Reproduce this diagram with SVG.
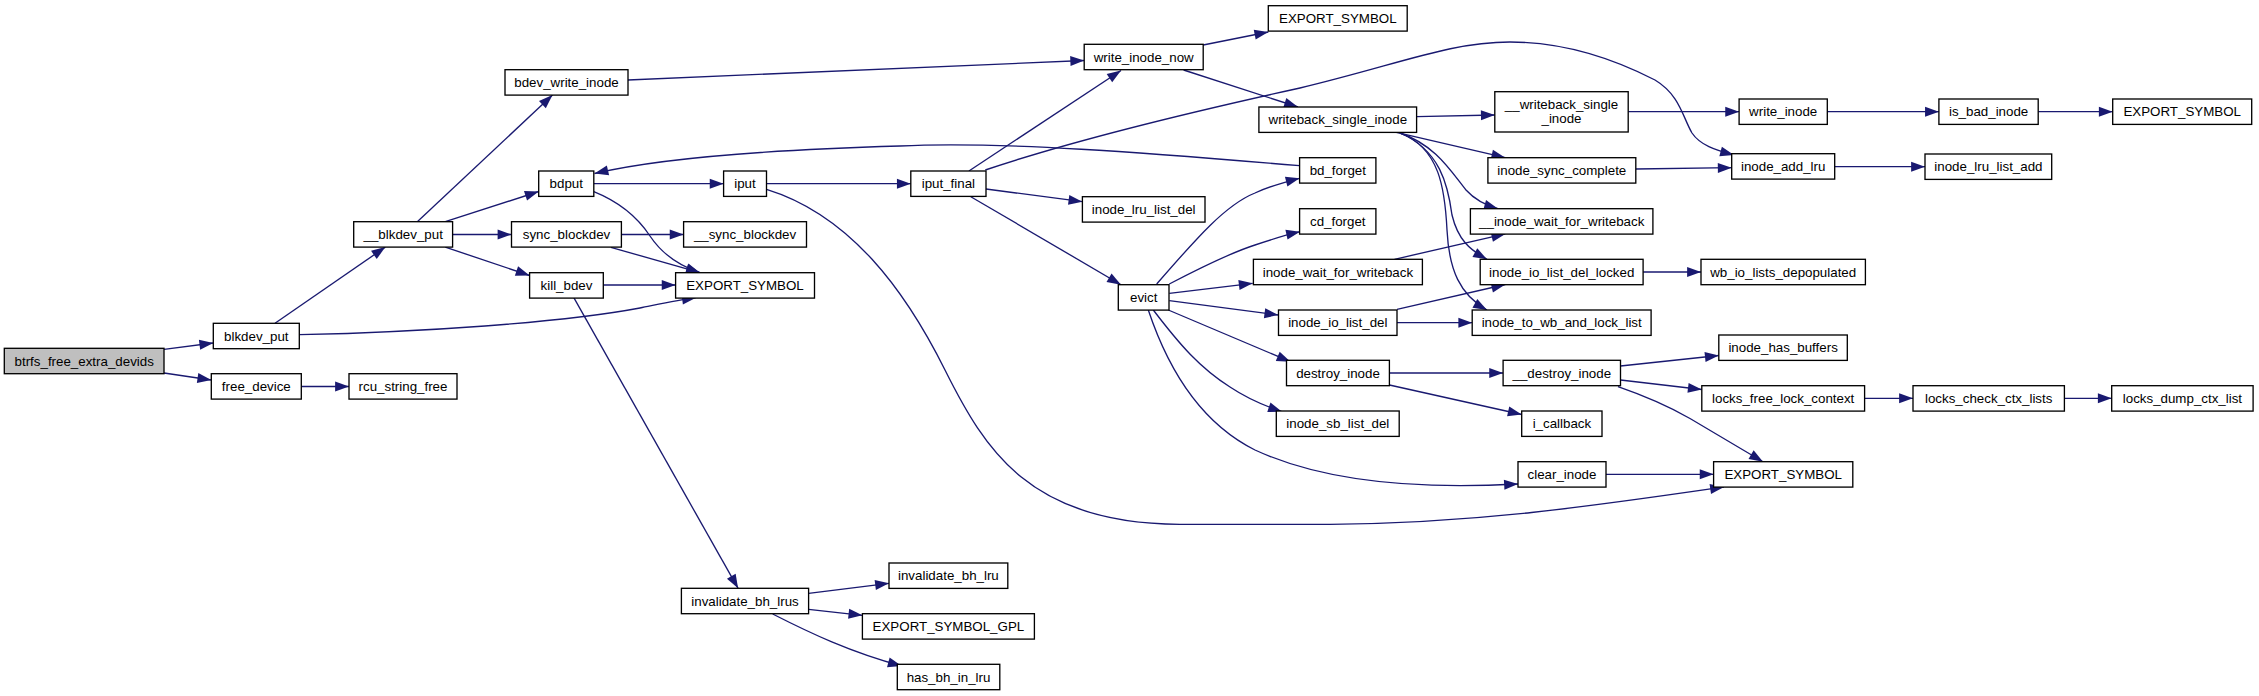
<svg xmlns="http://www.w3.org/2000/svg" width="2259" height="696" viewBox="0 0 2259 696">
<style>
.n rect{fill:#fff;stroke:#000;stroke-width:1.33}
.n.root rect{fill:#bfbfbf}
.n text{font-family:"Liberation Sans",Arial,Helvetica,sans-serif;font-size:13.33px;text-anchor:middle;fill:#000}
#edges path{fill:none;stroke:#191970;stroke-width:1.33;marker-end:url(#arr)}
</style>
<defs>
<marker id="arr" markerUnits="userSpaceOnUse" markerWidth="14" markerHeight="10" refX="13.3" refY="4.8" orient="auto" viewBox="0 0 13.3 9.6" overflow="visible">
<path d="M0,0 L13.3,4.8 L0,9.6 z" fill="#191970"/>
</marker>
</defs>
<rect width="2259" height="696" fill="#fff"/>
<g id="edges">
<path d="M164,349.3 L213.3,343"/>
<path d="M164,373 L211.3,380"/>
<path d="M301.3,386.5 L349,386.5"/>
<path d="M275,323.3 L385.3,247.1"/>
<path d="M299.3,334.7 C420,332 560,323 640,308 C660,304 678,300 696,297.7"/>
<path d="M417.3,221.7 L552.5,95.1"/>
<path d="M445.3,221.7 L538.7,191.5"/>
<path d="M452.6,234.5 L511.5,234.5"/>
<path d="M445.3,247.1 L529.6,275.5"/>
<path d="M628,80 L1084.2,60.5"/>
<path d="M593.8,183.7 L723.6,183.7"/>
<path d="M593.8,191.7 C622,203 638,218 650,236 C662,254 680,266 700,272.7"/>
<path d="M621.4,234.5 L683.6,234.5"/>
<path d="M610.9,247.3 L700,272.7"/>
<path d="M603.3,285 L675.6,285"/>
<path d="M573.8,297.7 L738.1,588.3"/>
<path d="M766.5,183.7 L910.8,183.7"/>
<path d="M766.5,189.3 C850,215 905,290 945,370 C985,450 1030,524 1180,524.3 L1330,524.3 C1480,523 1600,505 1724,487"/>
<path d="M968.9,171 L1121,70.5"/>
<path d="M985.3,170 C1080,138 1200,110 1300,88 C1400,64 1450,42 1510,42 C1570,42 1620,62 1655,80 C1680,95 1683,118 1692,133 C1700,145 1715,150 1734,155"/>
<path d="M986,189 L1082.4,201.7"/>
<path d="M970.8,196.7 L1121,284.7"/>
<path d="M1203.2,45 L1268.3,32"/>
<path d="M1183.6,70 L1298,107"/>
<path d="M1416.6,116.7 L1494.8,115"/>
<path d="M1396.3,132.4 L1505.3,157.7"/>
<path d="M1400,133 C1435,145 1450,170 1466,190 C1475,200 1485,205 1498,208.7"/>
<path d="M1400,133 C1440,150 1448,185 1452,215 C1458,240 1470,250 1487,259.3"/>
<path d="M1400,133 C1440,148 1445,190 1447,230 C1449,270 1460,295 1487,310"/>
<path d="M1628.2,111.7 L1739.1,111.7"/>
<path d="M1635.8,169 L1731.7,167.7"/>
<path d="M1827.3,111.7 L1938.9,111.7"/>
<path d="M2038.2,111.7 L2112.7,111.7"/>
<path d="M1834.7,166.7 L1925,166.7"/>
<path d="M1643.1,272 L1701,272"/>
<path d="M1299.6,165.7 C1150,153 1000,141 900,146 C760,150 660,158 594.5,173.5"/>
<path d="M1156.7,284 C1195,240 1225,205 1255,193 C1270,186 1285,182 1299.6,178.3"/>
<path d="M1169.3,284 C1200,268 1230,253 1255,245 C1270,240 1285,235 1300,231.7"/>
<path d="M1169.3,293.3 L1252.7,283.3"/>
<path d="M1169.3,300.7 L1278.3,315"/>
<path d="M1168.3,310 L1290.5,361.7"/>
<path d="M1153.3,310 C1180,345 1200,368 1230,387 C1248,399 1265,406 1282,411.7"/>
<path d="M1148.3,310 C1170,375 1205,425 1255,450 C1320,480 1410,490 1518,484"/>
<path d="M1394.5,259.3 L1505.3,233.9"/>
<path d="M1397,309.3 L1505.3,284.5"/>
<path d="M1397,322.7 L1472.2,322.7"/>
<path d="M1389.4,373 L1503.1,373"/>
<path d="M1389.4,385 L1521.7,414.5"/>
<path d="M1620.5,366 L1718.8,355.5"/>
<path d="M1620.5,380 L1701.8,389.5"/>
<path d="M1618,386.7 C1645,396 1668,406 1690,418.5 L1763,461.7"/>
<path d="M1606,474.3 L1713.6,474.3"/>
<path d="M1864.6,398.3 L1913,398.3"/>
<path d="M2064.4,398.3 L2111.7,398.3"/>
<path d="M808.6,593.3 L889,583.3"/>
<path d="M808.6,609.3 L862.4,615.3"/>
<path d="M772.7,614 C810,633 850,652 901.7,666"/>
</g>
<g id="btrfs_free_extra_devids" class="n root"><rect x="4.3" y="348.3" width="159.7" height="25.4"/><text x="84.2" y="365.5">btrfs_free_extra_devids</text></g>
<g id="blkdev_put" class="n"><rect x="213.3" y="323.3" width="86" height="25.4"/><text x="256.3" y="340.5">blkdev_put</text></g>
<g id="free_device" class="n"><rect x="211.3" y="373.7" width="90" height="25.4"/><text x="256.3" y="390.9">free_device</text></g>
<g id="rcu_string_free" class="n"><rect x="349" y="373.7" width="108" height="25.4"/><text x="403" y="390.9">rcu_string_free</text></g>
<g id="__blkdev_put" class="n"><rect x="353.7" y="221.7" width="98.9" height="25.4"/><text x="403.2" y="238.9">__blkdev_put</text></g>
<g id="bdev_write_inode" class="n"><rect x="505" y="69.7" width="123" height="25.4"/><text x="566.5" y="86.9">bdev_write_inode</text></g>
<g id="bdput" class="n"><rect x="538.7" y="171" width="55.1" height="25.4"/><text x="566.3" y="188.2">bdput</text></g>
<g id="sync_blockdev" class="n"><rect x="511.5" y="221.7" width="109.9" height="25.4"/><text x="566.5" y="238.9">sync_blockdev</text></g>
<g id="kill_bdev" class="n"><rect x="529.6" y="272.7" width="73.7" height="25.4"/><text x="566.5" y="289.9">kill_bdev</text></g>
<g id="export_symbol_1" class="n"><rect x="675.6" y="272.7" width="138.9" height="25.4"/><text x="745" y="289.9">EXPORT_SYMBOL</text></g>
<g id="__sync_blockdev" class="n"><rect x="683.6" y="221.7" width="122.9" height="25.4"/><text x="745" y="238.9">__sync_blockdev</text></g>
<g id="iput" class="n"><rect x="723.6" y="171" width="42.9" height="25.4"/><text x="745" y="188.2">iput</text></g>
<g id="iput_final" class="n"><rect x="910.8" y="171" width="75.2" height="25.4"/><text x="948.4" y="188.2">iput_final</text></g>
<g id="invalidate_bh_lrus" class="n"><rect x="681.4" y="588.3" width="127.2" height="25.4"/><text x="745" y="605.5">invalidate_bh_lrus</text></g>
<g id="invalidate_bh_lru" class="n"><rect x="889" y="563" width="118.8" height="25.4"/><text x="948.4" y="580.2">invalidate_bh_lru</text></g>
<g id="export_symbol_gpl" class="n"><rect x="862.4" y="613.7" width="172" height="25.4"/><text x="948.4" y="630.9">EXPORT_SYMBOL_GPL</text></g>
<g id="has_bh_in_lru" class="n"><rect x="897.3" y="664.3" width="102.5" height="25.4"/><text x="948.5" y="681.5">has_bh_in_lru</text></g>
<g id="write_inode_now" class="n"><rect x="1084.2" y="44.3" width="119" height="25.4"/><text x="1143.7" y="61.5">write_inode_now</text></g>
<g id="inode_lru_list_del" class="n"><rect x="1082.4" y="196.7" width="122.6" height="25.4"/><text x="1143.7" y="213.9">inode_lru_list_del</text></g>
<g id="evict" class="n"><rect x="1118.3" y="284.7" width="50.7" height="25.4"/><text x="1143.7" y="301.9">evict</text></g>
<g id="export_symbol_2" class="n"><rect x="1268.3" y="5.7" width="138.9" height="25.4"/><text x="1337.8" y="22.9">EXPORT_SYMBOL</text></g>
<g id="writeback_single_inode" class="n"><rect x="1258.9" y="107" width="157.7" height="25.4"/><text x="1337.8" y="124.2">writeback_single_inode</text></g>
<g id="__writeback_single_inode" class="n"><rect x="1494.8" y="91.7" width="133.4" height="40.3"/><text x="1561.5" y="108.5">__writeback_single</text><text x="1561.5" y="123">_inode</text></g>
<g id="bd_forget" class="n"><rect x="1299.6" y="157.7" width="76.3" height="25.4"/><text x="1337.8" y="174.9">bd_forget</text></g>
<g id="inode_sync_complete" class="n"><rect x="1487.9" y="157.7" width="147.9" height="25.4"/><text x="1561.8" y="174.9">inode_sync_complete</text></g>
<g id="cd_forget" class="n"><rect x="1299.6" y="208.7" width="76.3" height="25.4"/><text x="1337.8" y="225.9">cd_forget</text></g>
<g id="__inode_wait_for_writeback" class="n"><rect x="1470.4" y="208.7" width="182.5" height="25.4"/><text x="1561.7" y="225.9">__inode_wait_for_writeback</text></g>
<g id="inode_wait_for_writeback" class="n"><rect x="1253.4" y="259.3" width="169" height="25.4"/><text x="1337.9" y="276.5">inode_wait_for_writeback</text></g>
<g id="inode_io_list_del_locked" class="n"><rect x="1480.2" y="259.3" width="162.9" height="25.4"/><text x="1561.7" y="276.5">inode_io_list_del_locked</text></g>
<g id="inode_io_list_del" class="n"><rect x="1278.5" y="310" width="118.5" height="25.4"/><text x="1337.8" y="327.2">inode_io_list_del</text></g>
<g id="inode_to_wb_and_lock_list" class="n"><rect x="1472.2" y="310" width="178.9" height="25.4"/><text x="1561.7" y="327.2">inode_to_wb_and_lock_list</text></g>
<g id="destroy_inode" class="n"><rect x="1286.5" y="360.3" width="102.9" height="25.4"/><text x="1338" y="377.5">destroy_inode</text></g>
<g id="__destroy_inode" class="n"><rect x="1503.1" y="360.3" width="117.4" height="25.4"/><text x="1561.8" y="377.5">__destroy_inode</text></g>
<g id="inode_sb_list_del" class="n"><rect x="1276.3" y="411" width="122.9" height="25.4"/><text x="1337.8" y="428.2">inode_sb_list_del</text></g>
<g id="i_callback" class="n"><rect x="1521.7" y="411" width="80.3" height="25.4"/><text x="1561.9" y="428.2">i_callback</text></g>
<g id="clear_inode" class="n"><rect x="1518" y="461.7" width="88" height="25.4"/><text x="1562" y="478.9">clear_inode</text></g>
<g id="write_inode" class="n"><rect x="1739.1" y="99" width="88.2" height="25.4"/><text x="1783.2" y="116.2">write_inode</text></g>
<g id="is_bad_inode" class="n"><rect x="1938.9" y="99" width="99.3" height="25.4"/><text x="1988.6" y="116.2">is_bad_inode</text></g>
<g id="export_symbol_3" class="n"><rect x="2112.7" y="99" width="139" height="25.4"/><text x="2182.2" y="116.2">EXPORT_SYMBOL</text></g>
<g id="inode_add_lru" class="n"><rect x="1731.7" y="153.7" width="103" height="25.4"/><text x="1783.2" y="170.9">inode_add_lru</text></g>
<g id="inode_lru_list_add" class="n"><rect x="1925" y="154" width="126.7" height="25.4"/><text x="1988.4" y="171.2">inode_lru_list_add</text></g>
<g id="wb_io_lists_depopulated" class="n"><rect x="1701" y="259.3" width="164.4" height="25.4"/><text x="1783.2" y="276.5">wb_io_lists_depopulated</text></g>
<g id="inode_has_buffers" class="n"><rect x="1718.8" y="335" width="128.5" height="25.4"/><text x="1783.1" y="352.2">inode_has_buffers</text></g>
<g id="locks_free_lock_context" class="n"><rect x="1701.8" y="385.7" width="162.8" height="25.4"/><text x="1783.2" y="402.9">locks_free_lock_context</text></g>
<g id="locks_check_ctx_lists" class="n"><rect x="1913" y="385.7" width="151.4" height="25.4"/><text x="1988.7" y="402.9">locks_check_ctx_lists</text></g>
<g id="locks_dump_ctx_list" class="n"><rect x="2111.7" y="385.7" width="141.4" height="25.4"/><text x="2182.4" y="402.9">locks_dump_ctx_list</text></g>
<g id="export_symbol_4" class="n"><rect x="1713.6" y="461.7" width="139.2" height="25.4"/><text x="1783.2" y="478.9">EXPORT_SYMBOL</text></g>
</svg>
